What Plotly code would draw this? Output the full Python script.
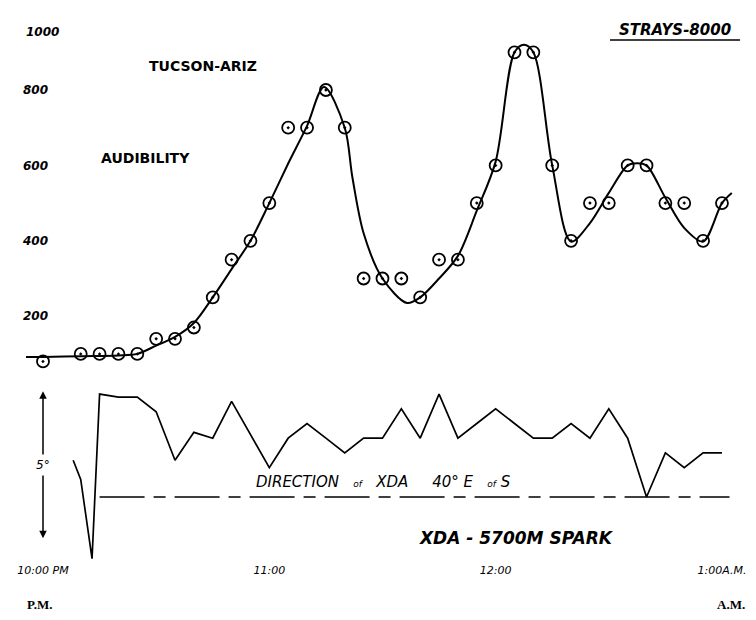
import plotly.graph_objects as go
from plotly.subplots import make_subplots

# ---- Audibility observations (minutes after 10:00 P.M.) ----
aud_minutes = [0, 10, 15, 20, 25, 30, 35, 40, 45, 50, 55, 60, 65, 70, 75, 80, 85, 90,
               95, 100, 105, 110, 115, 120, 125, 130, 135, 140, 145, 150, 155, 160,
               165, 170, 175, 180]
aud_values = [80, 100, 100, 100, 100, 140, 140, 170, 250, 350, 400, 500, 700, 700, 800,
              700, 300, 300, 300, 250, 350, 350, 500, 600, 900, 900, 600, 400, 500, 500,
              600, 600, 500, 500, 400, 500]

# ---- Hand-drawn smoothed audibility curve ----
curve_minutes = [-4.5, 0, 10, 20, 25, 30, 35, 40, 45, 50, 55, 60, 65, 70, 74.5, 80, 82,
                 85, 90, 96.5, 100, 105, 110, 115, 120, 125, 127.5, 130, 135, 140, 145,
                 150, 155, 157.5, 160, 165, 170, 175, 180, 182.6]
curve_values = [92, 92, 94, 96, 100, 122, 145, 182, 250, 325, 400, 500, 605, 705, 808,
                700, 570, 420, 300, 235, 250, 300, 360, 480, 610, 900, 920, 900, 600,
                398, 447, 527, 600, 606, 600, 514, 434, 398, 500, 527]

# ---- Direction of XDA, degrees from 40° E of S ----
dir_minutes = [8, 10, 13, 15, 20, 25, 30, 35, 40, 45, 50, 55, 60, 65, 70, 75, 80, 85,
               90, 95, 100, 105, 110, 115, 120, 125, 130, 135, 140, 145, 150, 155, 160,
               165, 170, 175, 180]
dir_values = [1.25, 0.6, -2.1, 3.5, 3.4, 3.4, 2.9, 1.25, 2.2, 2.0, 3.25, 2.1, 1.0, 2.0,
              2.5, 2.0, 1.5, 2.0, 2.0, 3.0, 2.0, 3.5, 2.0, 2.5, 3.0, 2.5, 2.0, 2.0, 2.5,
              2.0, 3.0, 2.0, 0.0, 1.5, 1.0, 1.5, 1.5]

ref_minutes = [15, 182]
ref_values = [0, 0]

tick_minutes = [0, 60, 120, 180]
tick_labels = ["10:00 PM", "11:00", "12:00", "1:00A.M."]
aud_ticks = [200, 400, 600, 800]
top_label = "1000"   # printed lower than its true scale position in the original

# The page adds an 8px body margin, so the figure is 748x612 placed at (8, 8).
W, H = 748, 612
L, R, T, B = 12, 11, 0, 52
PAGE_TOP, PAGE_BOTTOM, PAGE_LEFT, PAGE_RIGHT = 8, 568, 20, 745
def py(p):  # page pixel y -> paper y
    return (PAGE_BOTTOM - p) / (PAGE_BOTTOM - PAGE_TOP)
def px(p):  # page pixel x -> paper x
    return (p - PAGE_LEFT) / (PAGE_RIGHT - PAGE_LEFT)

fig = make_subplots(rows=2, cols=1, shared_xaxes=True, vertical_spacing=0.0)

fig.add_trace(go.Scatter(x=curve_minutes, y=curve_values, mode="lines",
                         line=dict(color="black", width=2, shape="spline", smoothing=0.9),
                         hoverinfo="skip", showlegend=False), row=1, col=1)
fig.add_trace(go.Scatter(x=aud_minutes, y=aud_values, mode="markers",
                         marker=dict(symbol="circle-open-dot", size=12, color="black",
                                     line=dict(width=1.8, color="black")),
                         showlegend=False), row=1, col=1)

fig.add_trace(go.Scatter(x=dir_minutes, y=dir_values, mode="lines",
                         line=dict(color="black", width=1.7),
                         showlegend=False), row=2, col=1)
fig.add_trace(go.Scatter(x=ref_minutes, y=ref_values, mode="lines",
                         line=dict(color="black", width=1.6, dash="45px,9px,12px,9px"),
                         showlegend=False), row=2, col=1)

xr = [(PAGE_LEFT - 43) / 3.772, (PAGE_RIGHT - 43) / 3.772]
fig.update_xaxes(range=xr, showgrid=False, zeroline=False, showline=False, ticks="")
fig.update_xaxes(showticklabels=False, row=1, col=1)
fig.update_xaxes(tickvals=tick_minutes, ticktext=tick_labels, showticklabels=True,
                 ticklabelstandoff=-6,
                 tickfont=dict(family="DejaVu Sans", size=11, color="black", style="italic"),
                 row=2, col=1)

tickfont_y = dict(family="DejaVu Sans", size=12, color="black", style="italic", weight="bold")
fig.update_yaxes(range=[800 - (375 - 90) / 0.377, 800 + (90 - PAGE_TOP) / 0.377],
                 tickvals=aud_ticks, ticks="", ticklabelposition="inside",
                 showgrid=False, zeroline=False, showline=False,
                 tickfont=tickfont_y, row=1, col=1)
fig.update_yaxes(range=[(497 - 568) / 29.4, (497 - 385) / 29.4], visible=False,
                 showgrid=False, zeroline=False, row=2, col=1)

fig.update_layout(
    width=W, height=H,
    margin=dict(l=L, r=R, t=T, b=B),
    paper_bgcolor="white", plot_bgcolor="white",
    showlegend=False,
    yaxis=dict(domain=[py(375), 1.0]),
    yaxis2=dict(domain=[0.0, py(385)]),
)

txt = dict(family="DejaVu Sans", color="black")
small_of = "<span style='font-size:9px'>of</span>"
ann = [
    dict(x=px(24), y=py(32), text=top_label, xanchor="left", font=tickfont_y),
    dict(x=px(203), y=py(66), text="<b>TUCSON-ARIZ</b>", font=dict(size=14, **txt)),
    dict(x=px(145), y=py(158), text="<b>AUDIBILITY</b>", font=dict(size=14, **txt)),
    dict(x=px(675), y=py(30), text="<b><i>STRAYS-8000</i></b>", font=dict(size=15, **txt)),
    dict(x=px(384), y=py(482),
         text=f"<i>DIRECTION   {small_of}   XDA     40° E   {small_of} S</i>",
         font=dict(size=15, **txt)),
    dict(x=px(516), y=py(538), text="<b><i>XDA - 5700M SPARK</i></b>",
         font=dict(size=17, **txt)),
    dict(x=px(40), y=py(604), text="<b>P.M.</b>", xanchor="center",
         font=dict(size=13, family="Liberation Serif", color="black")),
    dict(x=px(747), y=py(604), text="<b>A.M.</b>", xanchor="right",
         font=dict(size=13, family="Liberation Serif", color="black")),
]
for a in ann:
    a.setdefault("xanchor", "center")
    a.update(xref="paper", yref="paper", showarrow=False, yanchor="middle")
    fig.add_annotation(**a)

# 5° scale arrow in the lower panel
for head in (3.6, -1.4):
    fig.add_annotation(x=0, y=head, ax=0, ay=1.1, xref="x2", yref="y2", axref="x2", ayref="y2",
                       showarrow=True, arrowhead=2, arrowsize=1, arrowwidth=1.5,
                       arrowcolor="black", text="")
fig.add_annotation(x=0, y=1.1, xref="x2", yref="y2", text="<i>5°</i>", showarrow=False,
                   bgcolor="white", font=dict(size=12, **txt), borderpad=3)

# underline under STRAYS-8000
fig.add_shape(type="line", xref="paper", yref="paper", x0=px(610), x1=px(740),
              y0=py(40), y1=py(40), line=dict(color="black", width=1.5))

fig.write_html("out.html")
